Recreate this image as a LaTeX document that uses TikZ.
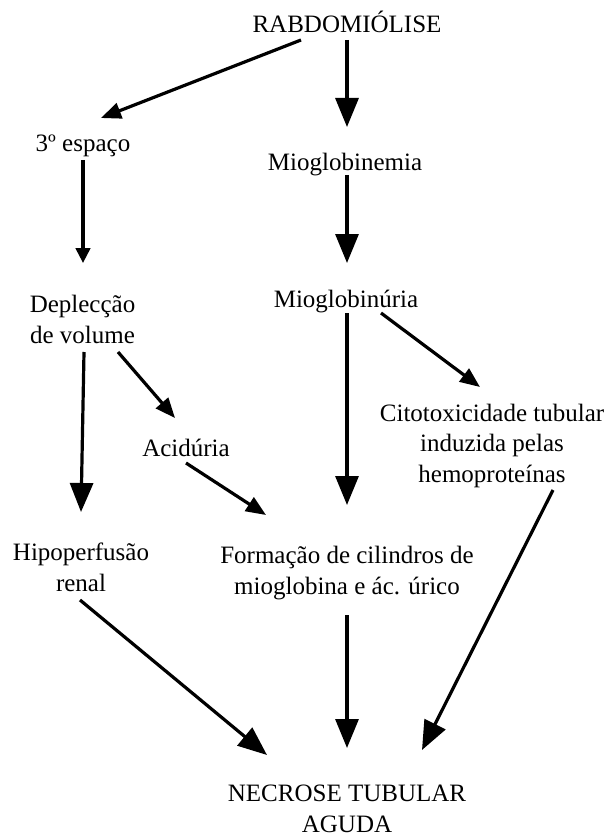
\documentclass[tikz,border=0pt]{standalone}
\usepackage{fontspec}
\setmainfont{Liberation Serif}
\usetikzlibrary{arrows.meta}

\begin{document}
\begin{tikzpicture}[x=1pt, y=-1pt,
    txt/.style={anchor=base, align=center, inner sep=0pt, font=\fontsize{25}{30.5}\selectfont},
    big/.style={-{Triangle[length=29pt,width=23pt]}, line width=3.2pt},
    mid/.style={-{Triangle[length=20pt,width=16pt]}, line width=3.2pt},
    small/.style={-{Triangle[length=15pt,width=14.5pt]}, line width=3.2pt},
]
\useasboundingbox (0,0) rectangle (610,837);

% nodes (placed at the baseline of their last line)
\node[txt] (rab) at (347,33) {RABDOMIÓLISE};
\node[txt] (esp) at (83,152) {3º espaço};
\node[txt] (mgn) at (345,171) {Mioglobinemia};
\node[txt] (dep) at (82.5,343) {Deplecção\\de volume};
\node[txt] (mgu) at (346,307) {Mioglobinúria};
\node[txt] (aci) at (186,456) {Acidúria};
\node[txt] (cit) at (492,482) {Citotoxicidade tubular\\induzida pelas\\hemoproteínas};
\node[txt] (hip) at (81,591) {Hipoperfusão\\renal};
\node[txt] (for) at (347,594) {Formação de cilindros de\\mioglobina e ác. úrico};
\node[txt] (nec) at (347,832) {NECROSE TUBULAR\\AGUDA};

% arrows
\draw[mid] ([shift={(-46,7)}]rab.base) -- ([shift={(18,-34)}]esp.base);
\draw[big] ([shift={(0,7)}]rab.base) -- ([shift={(2,-44)}]mgn.base);
\draw[big] ([shift={(2,4)}]mgn.base) -- ([shift={(1,-44)}]mgu.base);
\draw[small] ([shift={(0,8)}]esp.base) -- ([shift={(0.5,-80)}]dep.base);
\draw[big] ([shift={(1.5,9)}]dep.base) -- ([shift={(0,-79)}]hip.base);
\draw[mid] ([shift={(35.5,9)}]dep.base) -- ([shift={(-11,-38)}]aci.base);
\draw[mid] ([shift={(0,7)}]aci.base) -- ([shift={(-81,-79)}]for.base);
\draw[big] ([shift={(1,6)}]mgu.base) -- ([shift={(0,-89)}]for.base);
\draw[mid] ([shift={(35,6)}]mgu.base) -- ([shift={(-12,-95)}]cit.base);
\draw[big] ([shift={(-1,9)}]hip.base) -- ([shift={(-80,-77)}]nec.base);
\draw[big] ([shift={(0,21)}]for.base) -- ([shift={(0,-84)}]nec.base);
\draw[big] ([shift={(61,8)}]cit.base) -- ([shift={(75,-82)}]nec.base);
\end{tikzpicture}
\end{document}
